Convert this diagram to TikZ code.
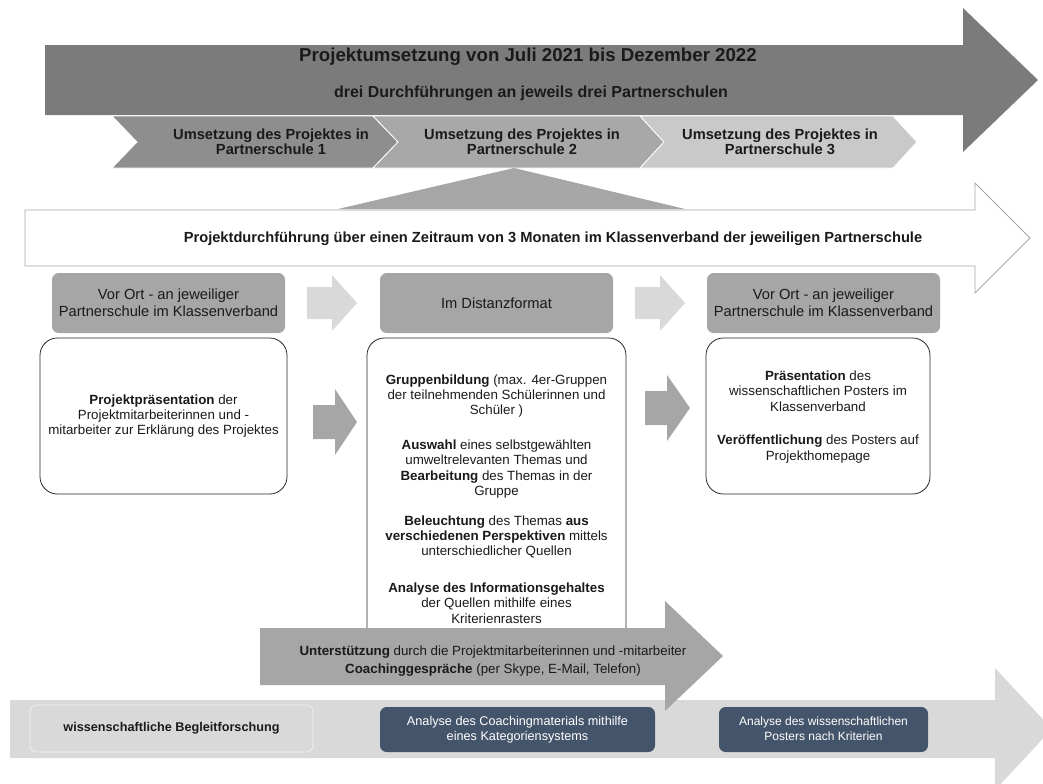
\documentclass[tikz,border=0pt]{standalone}
\usepackage{fontspec}
\setmainfont{Liberation Sans}
\definecolor{topgray}{HTML}{7B7B7B}
\definecolor{chevA}{HTML}{8E8E8E}
\definecolor{chevB}{HTML}{A8A8A8}
\definecolor{chevC}{HTML}{C9C9C9}
\definecolor{midgray}{HTML}{A6A6A6}
\definecolor{lightgray}{HTML}{D9D9D9}
\definecolor{slate}{HTML}{44546A}
\definecolor{txtgray}{HTML}{1A1A1A}
\begin{document}
\begin{tikzpicture}[x=0.75pt,y=-0.75pt,
  lbl/.style={align=center,inner sep=0pt,text=txtgray},
  body/.style={lbl,font=\fontsize{10}{11.5}\selectfont},
  hdrbox/.style={fill=midgray,rounded corners=5pt},
  txtbox/.style={draw=black!85,line width=0.6pt,fill=white,rounded corners=13pt},
  darkbox/.style={fill=slate,rounded corners=5pt}]
\useasboundingbox (0,0) rectangle (1043,783);
\clip (0,0) rectangle (1043,783);
% overall project time line
\fill[topgray] (45,45) -- (963,45) -- (963,8) -- (1038,80) -- (963,152) -- (963,115) -- (45,115) -- cycle;
\node[lbl,font=\bfseries\fontsize{14}{16}\selectfont] (title) at (528,57) {Projektumsetzung von Juli 2021 bis Dezember 2022};
\node[lbl,font=\bfseries\fontsize{12}{14}\selectfont] (subtitle) at (531,93) {drei Durchführungen an jeweils drei Partnerschulen};
% three school chevrons
\filldraw[chevA,draw=white,line width=0.6pt] (112,116) -- (373,116) -- (398,142) -- (373,168) -- (112,168) -- (137,142) -- cycle;
\filldraw[chevB,draw=white,line width=0.6pt] (373,116) -- (640,116) -- (664,142) -- (640,168) -- (373,168) -- (398,142) -- cycle;
\filldraw[chevC,draw=white,line width=0.6pt] (640,116) -- (893,116) -- (917,142) -- (893,168) -- (640,168) -- (664,142) -- cycle;
\foreach \cx/\nr in {271/1,522/2,780/3}
  \node[lbl,font=\bfseries\fontsize{11}{11}\selectfont] (schule\nr) at (\cx,142) {Umsetzung des Projektes in\\Partnerschule \nr};
% white phase arrow with zoom wedge
\filldraw[fill=white,draw=black!35,line width=0.6pt] (25,210) -- (975,210) -- (975,183) -- (1030,238) -- (975,293) -- (975,266) -- (25,266) -- cycle;
\fill[midgray] (338,209) -- (514,168) -- (685,209) -- cycle;
\node[lbl,font=\bfseries\fontsize{11}{12}\selectfont] (phase) at (553,239) {Projektdurchführung über einen Zeitraum von 3 Monaten im Klassenverband der jeweiligen Partnerschule};
% headers
\path[hdrbox] (52,273) rectangle (285,333);
\path[hdrbox] (380,273) rectangle (613,333);
\path[hdrbox] (707,273) rectangle (940,333);
\node[lbl,font=\fontsize{11}{12.5}\selectfont] (hdrA) at (168.5,303) {Vor Ort - an jeweiliger\\Partnerschule im Klassenverband};
\node[lbl,font=\fontsize{11}{12.5}\selectfont] (hdrB) at (496.5,303) {Im Distanzformat};
\node[lbl,font=\fontsize{11}{12.5}\selectfont] (hdrC) at (823.5,303) {Vor Ort - an jeweiliger\\Partnerschule im Klassenverband};
\fill[lightgray] (307,287) -- (332,287) -- (332,275) -- (357,303) -- (332,331) -- (332,319) -- (307,319) -- cycle;
\fill[lightgray] (635,287) -- (660,287) -- (660,275) -- (685,303) -- (660,331) -- (660,319) -- (635,319) -- cycle;
% content boxes
\path[txtbox] (40,338) rectangle (287,494);
\path[txtbox] (367,338) rectangle (626,680);
\path[txtbox] (706,338) rectangle (930,494);
\fill[midgray] (313,405) -- (335,405) -- (335,389) -- (357,422) -- (335,455) -- (335,439) -- (313,439) -- cycle;
\fill[midgray] (645,391) -- (667,391) -- (667,375) -- (690,408) -- (667,441) -- (667,425) -- (645,425) -- cycle;
\node[body] (praes) at (163.5,416) {\textbf{Projektpräsentation} der\\Projektmitarbeiterinnen und -\\mitarbeiter zur Erklärung des Projektes};
\node[body] (gruppe) at (496.5,396) {\textbf{Gruppenbildung} (max. 4er-Gruppen\\der teilnehmenden Schülerinnen und\\Schüler )};
\node[body] (auswahl) at (496.5,469) {\textbf{Auswahl} eines selbstgewählten\\umweltrelevanten Themas und\\\textbf{Bearbeitung} des Themas in der\\Gruppe};
\node[body] (licht) at (496.5,537) {\textbf{Beleuchtung} des Themas \textbf{aus}\\\textbf{verschiedenen Perspektiven} mittels\\unterschiedlicher Quellen};
\node[body] (analyse) at (496.5,603) {\textbf{Analyse des Informationsgehaltes}\\der Quellen mithilfe eines\\Kriterienrasters};
\node[body] (poster) at (818,391) {\textbf{Präsentation} des\\wissenschaftlichen Posters im\\Klassenverband};
\node[body] (web) at (818,449) {\textbf{Veröffentlichung} des Posters auf\\Projekthomepage};
% research band
\fill[lightgray] (10,700) -- (995,700) -- (995,668) -- (1052,729) -- (995,790) -- (995,758) -- (10,758) -- cycle;
\filldraw[fill=lightgray,draw=white!60!lightgray,line width=0.6pt,rounded corners=5pt] (30,705) rectangle (313,752);
\path[darkbox] (380,707) rectangle (655,752);
\path[darkbox] (719,707) rectangle (928,752);
\node[lbl,font=\bfseries\fontsize{9.5}{11}\selectfont] (begleit) at (171.5,728.5) {wissenschaftliche Begleitforschung};
\node[lbl,text=white,font=\fontsize{9.5}{11.5}\selectfont] (coachana) at (517.5,729.5) {Analyse des Coachingmaterials mithilfe\\eines Kategoriensystems};
\node[lbl,text=white,font=\fontsize{9}{11.5}\selectfont] (posterana) at (823.5,728.5) {Analyse des wissenschaftlichen\\Posters nach Kriterien};
% coaching support arrow
\fill[midgray] (260,628) -- (665,628) -- (665,601) -- (723,656) -- (665,711) -- (665,685) -- (260,685) -- cycle;
\node[lbl,font=\fontsize{10}{14}\selectfont] (coach) at (493,661) {\textbf{Unterstützung} durch die Projektmitarbeiterinnen und -mitarbeiter\\\textbf{Coachinggespräche} (per Skype, E-Mail, Telefon)};
\end{tikzpicture}
\end{document}
